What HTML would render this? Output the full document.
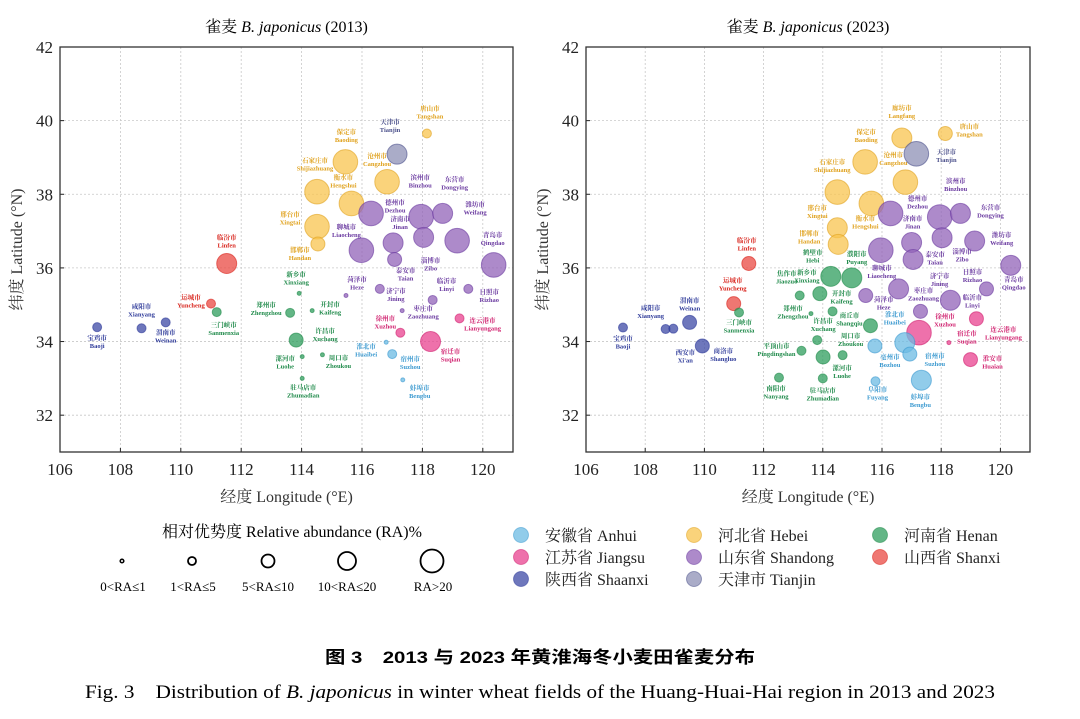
<!DOCTYPE html>
<html><head><meta charset="utf-8">
<style>
body{margin:0;background:#fff;}
svg{display:block;font-family:"Liberation Serif","Noto Serif CJK SC","Noto Sans CJK SC",serif;}
</style></head>
<body>
<svg id="fig" width="1080" height="719" viewBox="0 0 1080 719" xmlns="http://www.w3.org/2000/svg">
<g id="charts"></g>
<g>
<text x="292" y="537" font-size="16" text-anchor="middle">相对优势度 Relative abundance (RA)%</text>
<circle cx="122" cy="561" r="1.8" fill="none" stroke="#000" stroke-width="1.5"/>
<circle cx="192" cy="561" r="4" fill="none" stroke="#000" stroke-width="1.8"/>
<circle cx="268" cy="561" r="6.5" fill="none" stroke="#000" stroke-width="1.8"/>
<circle cx="347" cy="561" r="9" fill="none" stroke="#000" stroke-width="1.8"/>
<circle cx="432" cy="561" r="11.5" fill="none" stroke="#000" stroke-width="1.8"/>
<g font-size="13" text-anchor="middle">
<text x="123" y="591">0&lt;RA≤1</text><text x="193" y="591">1&lt;RA≤5</text><text x="268" y="591">5&lt;RA≤10</text><text x="347" y="591">10&lt;RA≤20</text><text x="433" y="591">RA&gt;20</text>
</g>
</g>
<g id="plegend"></g>
<text x="325" y="663" font-size="17" font-weight="bold" textLength="430" lengthAdjust="spacingAndGlyphs" font-family="Liberation Sans,Noto Sans CJK SC,sans-serif">图 3　2013 与 2023 年黄淮海冬小麦田雀麦分布</text>
<text x="85" y="698" font-size="19" textLength="910" lengthAdjust="spacingAndGlyphs">Fig. 3　Distribution of <tspan font-style="italic">B. japonicus</tspan> in winter wheat fields of the Huang-Huai-Hai region in 2013 and 2023</text>
</svg>
<script>
const provinces = ["Anhui","Jiangsu","Shaanxi","Hebei","Shandong","Tianjin","Henan","Shanxi"];
const provinceCN = ["安徽省","江苏省","陕西省","河北省","山东省","天津市","河南省","山西省"];
const provinceFill = ["#6cbbe3","#e8428f","#3e4aa5","#f8c44f","#9263b8","#8d90b6","#2f9d5e","#ea4a43"];
const provinceText = ["#3c9ad0","#d0216f","#2f3b9a","#e0a21e","#6a3aa0","#4a4f8a","#1f8a4a","#d8231b"];
const xTicks = [106,108,110,112,114,116,118,120];
const yTicks = [32,34,36,38,40,42];
const sizeClassRadius = [0,2,4.5,7,10,12.3];

// [cn, en, province index, lon, lat, RA class]
const cities2013 = [
["宝鸡市","Baoji",2,107.23,34.39,2],["咸阳市","Xianyang",2,108.7,34.36,2],["渭南市","Weinan",2,109.5,34.52,2],
["临汾市","Linfen",7,111.52,36.12,4],["运城市","Yuncheng",7,111.0,35.03,2],
["三门峡市","Sanmenxia",6,111.19,34.8,2],["新乡市","Xinxiang",6,113.92,35.31,1],["郑州市","Zhengzhou",6,113.62,34.78,2],
["开封市","Kaifeng",6,114.35,34.84,1],["许昌市","Xuchang",6,113.82,34.04,3],["漯河市","Luohe",6,114.02,33.59,1],
["周口市","Zhoukou",6,114.69,33.64,1],["驻马店市","Zhumadian",6,114.02,33.0,1],
["保定市","Baoding",3,115.45,38.88,5],["石家庄市","Shijiazhuang",3,114.51,38.07,5],["衡水市","Hengshui",3,115.65,37.75,5],
["沧州市","Cangzhou",3,116.83,38.34,5],["邢台市","Xingtai",3,114.51,37.12,5],["邯郸市","Handan",3,114.54,36.65,3],
["唐山市","Tangshan",3,118.15,39.65,2],["天津市","Tianjin",5,117.16,39.09,4],
["德州市","Dezhou",4,116.3,37.48,5],["滨州市","Binzhou",4,117.96,37.39,5],["东营市","Dongying",4,118.67,37.48,4],
["济南市","Jinan",4,117.03,36.68,4],["淄博市","Zibo",4,118.04,36.83,4],["潍坊市","Weifang",4,119.15,36.74,5],
["青岛市","Qingdao",4,120.36,36.08,5],["聊城市","Liaocheng",4,115.98,36.48,5],["泰安市","Taian",4,117.08,36.23,3],
["菏泽市","Heze",4,115.47,35.25,1],["济宁市","Jining",4,116.59,35.43,2],["枣庄市","Zaozhuang",4,117.33,34.84,1],
["临沂市","Linyi",4,118.34,35.13,2],["日照市","Rizhao",4,119.52,35.43,2],
["徐州市","Xuzhou",1,117.27,34.24,2],["宿迁市","Suqian",1,118.27,34.0,4],["连云港市","Lianyungang",1,119.23,34.63,2],
["淮北市","Huaibei",0,116.8,33.98,1],["宿州市","Suzhou",0,117.0,33.66,2],["蚌埠市","Bengbu",0,117.35,32.96,1]
];
const cities2023 = [
["宝鸡市","Baoji",2,107.25,34.38,2],["咸阳市","Xianyang",2,108.69,34.34,2],["西安市","Xi'an",2,108.95,34.35,2],
["渭南市","Weinan",2,109.5,34.52,3],["商洛市","Shangluo",2,109.93,33.88,3],
["临汾市","Linfen",7,111.5,36.12,3],["运城市","Yuncheng",7,110.99,35.03,3],
["三门峡市","Sanmenxia",6,111.17,34.79,2],["鹤壁市","Hebi",6,114.27,35.77,4],["濮阳市","Puyang",6,114.98,35.73,4],
["焦作市","Jiaozuo",6,113.22,35.25,2],["新乡市","Xinxiang",6,113.9,35.3,3],["郑州市","Zhengzhou",6,113.6,34.76,1],
["开封市","Kaifeng",6,114.33,34.82,2],["商丘市","Shangqiu",6,115.61,34.43,3],["许昌市","Xuchang",6,113.81,34.04,2],
["平顶山市","Pingdingshan",6,113.28,33.75,2],["漯河市","Luohe",6,114.01,33.58,3],["周口市","Zhoukou",6,114.67,33.63,2],
["南阳市","Nanyang",6,112.52,33.02,2],["驻马店市","Zhumadian",6,114.0,33.0,2],
["廊坊市","Langfang",3,116.67,39.53,4],["唐山市","Tangshan",3,118.14,39.65,3],["保定市","Baoding",3,115.43,38.88,5],
["沧州市","Cangzhou",3,116.79,38.33,5],["石家庄市","Shijiazhuang",3,114.49,38.06,5],["衡水市","Hengshui",3,115.64,37.75,5],
["邢台市","Xingtai",3,114.49,37.09,4],["邯郸市","Handan",3,114.52,36.64,4],["天津市","Tianjin",5,117.16,39.1,5],
["德州市","Dezhou",4,116.29,37.48,5],["滨州市","Binzhou",4,117.95,37.38,5],["东营市","Dongying",4,118.65,37.48,4],
["济南市","Jinan",4,117.0,36.69,4],["淄博市","Zibo",4,118.03,36.82,4],["潍坊市","Weifang",4,119.13,36.73,4],
["青岛市","Qingdao",4,120.35,36.07,4],["聊城市","Liaocheng",4,115.96,36.48,5],["泰安市","Taian",4,117.05,36.23,4],
["菏泽市","Heze",4,115.45,35.25,3],["济宁市","Jining",4,116.56,35.43,4],["枣庄市","Zaozhuang",4,117.3,34.82,3],
["临沂市","Linyi",4,118.31,35.12,4],["日照市","Rizhao",4,119.53,35.43,3],
["徐州市","Xuzhou",1,117.25,34.24,5],["宿迁市","Suqian",1,118.26,33.97,1],["连云港市","Lianyungang",1,119.19,34.62,3],
["淮安市","Huaian",1,118.99,33.51,3],["淮北市","Huaibei",0,116.77,33.97,4],["亳州市","Bozhou",0,115.76,33.88,3],
["宿州市","Suzhou",0,116.94,33.66,3],["阜阳市","Fuyang",0,115.78,32.92,2],["蚌埠市","Bengbu",0,117.33,32.95,4]
];
// label placement offsets (layout only)
const labelOffset2013 = {Baoji:[0,13],Xianyang:[0,-20],Weinan:[0,12],Linfen:[0,-24],Yuncheng:[-20,-4],Sanmenxia:[7,15],Xinxiang:[-3,-17],Zhengzhou:[-24,-6],Kaifeng:[18,-4],Xuchang:[29,-7],Luohe:[-17,4],Zhoukou:[16,5],Zhumadian:[1,11],Baoding:[1,-28],Shijiazhuang:[-2,-29],Hengshui:[-8,-24],Cangzhou:[-10,-24],Xingtai:[-27,-10],Handan:[-18,8],Tangshan:[3,-23],Tianjin:[-7,-30],Dezhou:[24,-9],Binzhou:[-1,-37],Dongying:[12,-32],Jinan:[7,-22],Zibo:[7,25],Weifang:[18,-34],Qingdao:[-1,-28],Liaocheng:[-15,-21],Taian:[11,13],Heze:[11,-14],Jining:[16,4],Zaozhuang:[21,0],Linyi:[14,-17],Rizhao:[21,5],Xuzhou:[-15,-12],Suqian:[20,12],Lianyungang:[23,4],Huaibei:[-20,6],Suzhou:[18,7],Bengbu:[17,10]};
const labelOffset2023 = {Baoji:[0,13],Xianyang:[-15,-19],"Xi'an":[12,26],Weinan:[0,-20],Shangluo:[21,7],Linfen:[-2,-21],Yuncheng:[-1,-21],Sanmenxia:[0,12],Hebi:[-18,-22],Puyang:[5,-22],Jiaozuo:[-13,-20],Xinxiang:[-13,-19],Zhengzhou:[-18,-3],Kaifeng:[9,-16],Shangqiu:[-21,-8],Xuchang:[6,-17],Pingdingshan:[-25,-3],Luohe:[19,13],Zhoukou:[8,-17],Nanyang:[-3,13],Zhumadian:[0,14],Langfang:[0,-28],Tangshan:[24,-5],Baoding:[1,-28],Cangzhou:[-12,-25],Shijiazhuang:[-5,-28],Hengshui:[-6,17],Xingtai:[-20,-18],Handan:[-29,-9],Tianjin:[30,0],Dezhou:[27,-13],Binzhou:[16,-34],Dongying:[30,-4],Jinan:[1,-22],Zibo:[20,16],Weifang:[27,-4],Qingdao:[3,16],Liaocheng:[1,20],Taian:[22,-3],Heze:[18,6],Jining:[41,-11],Zaozhuang:[3,-19],Linyi:[22,-1],Rizhao:[-14,-15],Xuzhou:[26,-14],Suqian:[18,-7],Lianyungang:[27,13],Huaian:[22,1],Huaibei:[-10,-26],Bozhou:[15,13],Suzhou:[25,4],Fuyang:[2,10],Bengbu:[-1,19]};

const NS="http://www.w3.org/2000/svg";
function mk(tag,attrs,parent){const e=document.createElementNS(NS,tag);for(const k in attrs)e.setAttribute(k,attrs[k]);parent.appendChild(e);return e;}

function drawChart(id,year,left,right,cities,offsets){
  const top=47,bottom=452,lonMin=106,lonMax=121,latMin=31,latMax=42;
  const xs=v=>left+(v-lonMin)/(lonMax-lonMin)*(right-left);
  const ys=v=>bottom-(v-latMin)/(latMax-latMin)*(bottom-top);
  const g=mk('g',{},document.getElementById('charts'));
  
  
  const cx=(left+right)/2;
  const t=mk('text',{x:cx,y:32,'font-size':16,'text-anchor':'middle'},g);
  
  
  t.innerHTML='雀麦 <tspan font-style="italic">B. japonicus</tspan> ('+year+')';
  xTicks.forEach(v=>{
    const x=xs(v);
    const l=mk('line',{x1:x,x2:x,y1:top,y2:bottom,stroke:'#c8c8c8','stroke-dasharray':'2,2','stroke-width':0.8},g);
    
    
    mk('line',{x1:x,x2:x,y1:bottom,y2:bottom-4,stroke:'#222','stroke-width':1},g);
    const tl=mk('text',{x:x,y:bottom+23,'font-size':17,'text-anchor':'middle',fill:'#222'},g);
    tl.textContent=v;
    
    
  });
  yTicks.forEach(v=>{
    const y=ys(v);
    const l=mk('line',{x1:left,x2:right,y1:y,y2:y,stroke:'#c8c8c8','stroke-dasharray':'2,2','stroke-width':0.8},g);
    
    
    mk('line',{x1:left,x2:left+4,y1:y,y2:y,stroke:'#222','stroke-width':1},g);
    const tl=mk('text',{x:left-7,y:y+6,'font-size':17,'text-anchor':'end',fill:'#222'},g);
    tl.textContent=v;
    
    
  });
  const fr=mk('rect',{x:left,y:top,width:right-left,height:bottom-top,fill:'none',stroke:'#333','stroke-width':1.3},g);
  
  
  const xt=mk('text',{x:cx,y:502,'font-size':16,'text-anchor':'middle',fill:'#333'},g);
  xt.textContent='经度 Longitude (°E)';
  
  
  const yx=left-38, yy=(top+bottom)/2;
  const yt=mk('text',{x:yx,y:yy,'font-size':16,'text-anchor':'middle',fill:'#333',transform:'rotate(-90 '+yx+' '+yy+')'},g);
  yt.textContent='纬度 Latitude (°N)';
  
  
  cities.forEach(c=>{
    const [cn,en,p,lon,lat,cls]=c;
    const px=xs(lon),py=ys(lat);
    const circ=mk('circle',{cx:px,cy:py,r:sizeClassRadius[cls],fill:provinceFill[p],'fill-opacity':0.75,stroke:provinceText[p],'stroke-opacity':0.6,'stroke-width':1},g);
    
    
    const o=offsets[en]||[0,-15];
    const lt=mk('text',{x:px+o[0],y:py+o[1],'font-size':6.5,'font-weight':'bold','text-anchor':'middle',fill:provinceText[p],'font-family':'Liberation Serif,Noto Serif CJK SC,serif'},g);
    
    
    mk('tspan',{x:px+o[0],dy:0},lt).textContent=cn;
    mk('tspan',{x:px+o[0],dy:8},lt).textContent=en;
  });
}
drawChart('c1',2013,60,513,cities2013,labelOffset2013);
drawChart('c2',2023,586,1030,cities2023,labelOffset2023);

const pl=document.getElementById('plegend');
const legendOrder=[0,3,6,1,4,7,2,5];
const colX=[521,694,880], rowY=[535,557,579];
legendOrder.forEach((p,i)=>{
  const col=i%3,row=Math.floor(i/3);
  const c=mk('circle',{cx:colX[col],cy:rowY[row],r:7.5,fill:provinceFill[p],'fill-opacity':0.75,stroke:provinceText[p],'stroke-opacity':0.5},pl);
  
  
  const t=mk('text',{x:colX[col]+24,y:rowY[row]+6,'font-size':16,fill:'#222'},pl);
  t.textContent=provinceCN[p]+' '+provinces[p];
  
  
});
</script>
</body></html>
